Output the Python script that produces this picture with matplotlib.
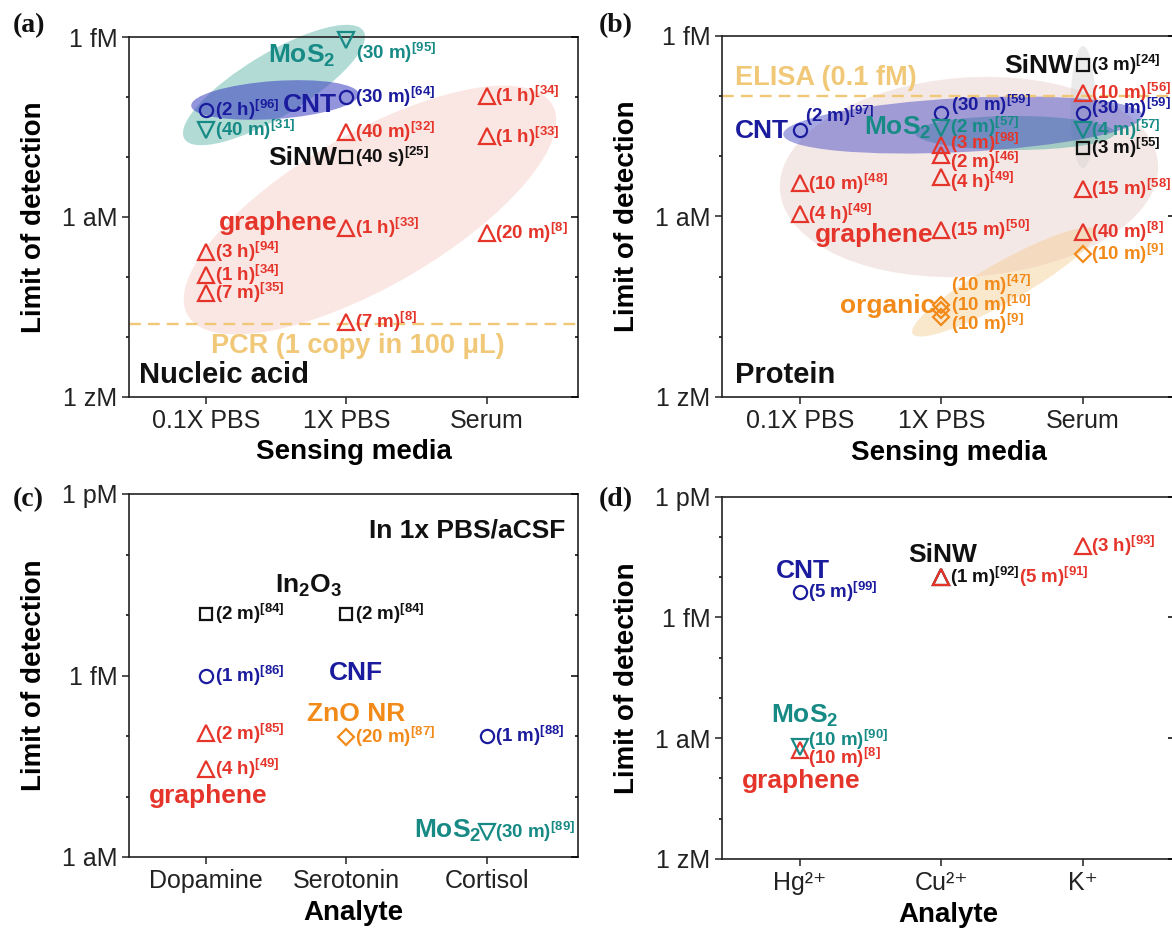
import matplotlib
matplotlib.use('Agg')
import matplotlib.pyplot as plt
import matplotlib.transforms as mtransforms
from matplotlib.patches import Ellipse
from matplotlib.ticker import FixedLocator, NullFormatter

plt.rcParams['font.family'] = ['Liberation Sans', 'DejaVu Sans']
plt.rcParams['mathtext.fontset'] = 'custom'
plt.rcParams['mathtext.rm'] = 'Liberation Sans'
plt.rcParams['mathtext.bf'] = 'Liberation Sans:bold'
plt.rcParams['mathtext.it'] = 'Liberation Sans:italic'
plt.rcParams['mathtext.sf'] = 'Liberation Sans'

# ======================= DATA =======================
# ---- (a) Nucleic acid, x = sensing media index ----
media = ['0.1X PBS', '1X PBS', 'Serum']
a_mos2_x = [1, 0]
a_mos2_lod = [8.9e-16, 2.8e-17]
a_mos2_time = ['30 m', '40 m']
a_mos2_ref = ['95', '31']
a_cnt_x = [0, 1]
a_cnt_lod = [6.0e-17, 1.0e-16]
a_cnt_time = ['2 h', '30 m']
a_cnt_ref = ['96', '64']
a_sinw_x = [1]
a_sinw_lod = [1.0e-17]
a_sinw_time = ['40 s']
a_sinw_ref = ['25']
a_gr_x = [2, 1, 2, 1, 2, 0, 0, 0, 1]
a_gr_lod = [1.05e-16, 2.6e-17, 2.2e-17, 6.6e-19, 5.4e-19, 2.6e-19, 1.1e-19, 5.4e-20, 1.8e-20]
a_gr_time = ['1 h', '40 m', '1 h', '1 h', '20 m', '3 h', '1 h', '7 m', '7 m']
a_gr_ref = ['34', '32', '33', '33', '8', '94', '34', '35', '8']
a_pcr = 1.66e-20

# ---- (b) Protein ----
b_cnt_x = [0, 1, 2]
b_cnt_lod = [2.7e-17, 5.1e-17, 5.1e-17]
b_cnt_time = ['2 m', '30 m', '30 m']
b_cnt_ref = ['97', '59', '59']
b_mos2_x = [1, 2]
b_mos2_lod = [2.9e-17, 2.7e-17]
b_mos2_time = ['2 m', '4 m']
b_mos2_ref = ['57', '57']
b_sinw_x = [2, 2]
b_sinw_lod = [3.2e-16, 1.35e-17]
b_sinw_time = ['3 m', '3 m']
b_sinw_ref = ['24', '55']
b_gr_x = [0, 0, 1, 1, 1, 1, 2, 2, 2]
b_gr_lod = [3.5e-18, 1.1e-18, 1.5e-17, 1.05e-17, 4.5e-18, 5.9e-19, 1.1e-16, 2.8e-18, 5.5e-19]
b_gr_time = ['10 m', '4 h', '3 m', '2 m', '4 h', '15 m', '10 m', '15 m', '40 m']
b_gr_ref = ['48', '49', '98', '46', '49', '50', '56', '58', '8']
b_org_x = [1, 1, 1, 2]
b_org_lod = [3.4e-20, 2.75e-20, 2.1e-20, 2.4e-19]
b_org_time = ['10 m', '10 m', '10 m', '10 m']
b_org_ref = ['47', '10', '9', '9']
b_elisa = 1e-16

# ---- (c) Neurotransmitters / hormones ----
analytes_c = ['Dopamine', 'Serotonin', 'Cortisol']
c_in2o3_x = [0, 1]
c_in2o3_lod = [1.05e-14, 1.05e-14]
c_in2o3_time = ['2 m', '2 m']
c_in2o3_ref = ['84', '84']
c_cnf_x = [0, 2]
c_cnf_lod = [1.0e-15, 1.0e-16]
c_cnf_time = ['1 m', '1 m']
c_cnf_ref = ['86', '88']
c_gr_x = [0, 0]
c_gr_lod = [1.1e-16, 2.8e-17]
c_gr_time = ['2 m', '4 h']
c_gr_ref = ['85', '49']
c_zno_x = [1]
c_zno_lod = [9.8e-17]
c_zno_time = ['20 m']
c_zno_ref = ['87']
c_mos2_x = [2]
c_mos2_lod = [2.6e-18]
c_mos2_time = ['30 m']
c_mos2_ref = ['89']

# ---- (d) Ions ----
analytes_d = ['Hg²⁺', 'Cu²⁺', 'K⁺']
d_cnt_x = [0]
d_cnt_lod = [4.4e-15]
d_cnt_time = ['5 m']
d_cnt_ref = ['99']
d_sinw_x = [1]
d_sinw_lod = [1.0e-14]
d_sinw_time = ['1 m']
d_sinw_ref = ['92']
d_gr_x = [1, 2, 0]
d_gr_lod = [1.0e-14, 6.0e-14, 5.1e-19]
d_gr_time = ['5 m', '3 h', '10 m']
d_gr_ref = ['91', '93', '8']
d_mos2_x = [0]
d_mos2_lod = [6.2e-19]
d_mos2_time = ['10 m']
d_mos2_ref = ['90']

# ======================= STYLE =======================
W, H, DPI = 1172, 933, 100
RED = '#E5352B'
BLUE = '#1B1B9E'
TEAL = '#178A85'
BLACK = '#111111'
ORANGE = '#F28A1A'
GOLD = '#F0C878'

fig = plt.figure(figsize=(W / DPI, H / DPI), dpi=DPI)


def axes_px(left, top, right, bottom):
    return fig.add_axes([left / W, 1 - bottom / H, (right - left) / W, (bottom - top) / H])


def setup(ax, ymin, ymax, majors, major_labels, minors, cats, xlabel):
    ax.set_yscale('log')
    ax.set_ylim(ymin, ymax)
    ax.set_xlim(-0.55, 2.65)
    ax.set_yticks(majors, major_labels)
    ax.yaxis.set_minor_locator(FixedLocator(minors))
    ax.yaxis.set_minor_formatter(NullFormatter())
    ax.set_xticks(range(len(cats)), cats)
    ax.tick_params(axis='x', which='minor', bottom=False)
    ax.tick_params(axis='both', which='major', length=5, width=1.1, labelsize=18,
                   direction='out', colors='#222222', labelcolor='#222222')
    ax.tick_params(axis='y', which='minor', length=2.5, width=1.1, direction='out')
    for s in ax.spines.values():
        s.set_linewidth(1.2)
        s.set_color('#222222')
    ax.set_xlabel(xlabel, fontsize=20, fontweight='bold')
    ax.xaxis.set_label_coords(0.5, -0.118)
    ax.set_ylabel('Limit of detection', fontsize=20, fontweight='bold')
    ax.yaxis.set_label_coords(-0.182, 0.5)
    tw = ax.twinx()
    tw.set_yscale('log')
    tw.set_ylim(ymin, ymax)
    tw.set_yticks(majors)
    tw.yaxis.set_minor_locator(FixedLocator(minors))
    tw.yaxis.set_minor_formatter(NullFormatter())
    tw.tick_params(axis='y', which='both', direction='in', labelright=False, width=1.1)
    tw.tick_params(axis='y', which='major', length=5)
    tw.tick_params(axis='y', which='minor', length=2.5)
    for s in tw.spines.values():
        s.set_visible(False)


def series(ax, xs, lods, times, refs, color, marker, ms, offsets=None):
    ax.plot(xs, lods, linestyle='none', marker=marker, ms=ms, mfc='none',
            mec=color, mew=1.6, clip_on=False, zorder=3)
    if offsets is None:
        offsets = [(6, 0)] * len(xs)
    for x, v, t, r, off in zip(xs, lods, times, refs, offsets):
        ax.annotate(f'({t})' + r'$^{\mathbf{[' + r + ']}}$', (x, v), xytext=off,
                    textcoords='offset points', ha='left', va='center',
                    color=color, fontsize=13.5, fontweight='bold', zorder=4,
                    annotation_clip=False)


def ellipse(ax, cx, cy, w, h, angle, color, alpha):
    tr = fig.dpi_scale_trans + mtransforms.ScaledTranslation(cx / W, 1 - cy / H, fig.transFigure)
    e = Ellipse((0, 0), w / DPI, h / DPI, angle=angle, facecolor=color, alpha=alpha,
                edgecolor='none', transform=tr, zorder=0.5, clip_on=False)
    ax.add_patch(e)


def ftext(x, y, s, color, size, ha='left', va='baseline', family=None):
    kw = {}
    if family is not None:
        kw['family'] = family
    fig.text(x / W, 1 - y / H, s, color=color, fontsize=size, fontweight='bold',
             ha=ha, va=va, **kw)


SUB2 = r'$_{\mathbf{2}}$'
SUB3 = r'$_{\mathbf{3}}$'

# ======================= (a) =======================
axa = axes_px(129, 37, 578, 397)
setup(axa, 1e-21, 1e-15, [1e-21, 1e-18, 1e-15], ['1 zM', '1 aM', '1 fM'],
      [1e-20, 1e-19, 1e-17, 1e-16], media, 'Sensing media')
ellipse(axa, 370, 210, 421, 153, 30, '#F6C9C3', 0.45)
ellipse(axa, 274, 85, 209, 63, 31, '#2A9D8F', 0.36)
ellipse(axa, 275, 100, 168, 38, 4, '#3A3FC0', 0.55)
axa.axhline(a_pcr, color=GOLD, lw=1.7, ls=(0, (5, 3)), zorder=1.5)
series(axa, a_gr_x, a_gr_lod, a_gr_time, a_gr_ref, RED, '^', 11)
series(axa, a_cnt_x, a_cnt_lod, a_cnt_time, a_cnt_ref, BLUE, 'o', 9.5)
series(axa, a_mos2_x, a_mos2_lod, a_mos2_time, a_mos2_ref, TEAL, 'v', 11,
       [(7, -9), (6, 0)])
series(axa, a_sinw_x, a_sinw_lod, a_sinw_time, a_sinw_ref, BLACK, 's', 8)
ftext(335, 63, 'MoS' + SUB2, TEAL, 19, ha='right')
ftext(337, 112, 'CNT', BLUE, 19, ha='right')
ftext(337, 165, 'SiNW', BLACK, 19, ha='right')
ftext(337, 230, 'graphene', RED, 19, ha='right')
ftext(358, 353, r'PCR (1 copy in 100 μL)', GOLD, 19.5, ha='center')
ftext(139, 383, 'Nucleic acid', BLACK, 21)
ftext(13, 26, '(a)', BLACK, 20, va='center', family='Liberation Serif')

# ======================= (b) =======================
axb = axes_px(722, 35.5, 1175, 397)
setup(axb, 1e-21, 1e-15, [1e-21, 1e-18, 1e-15], ['1 zM', '1 aM', '1 fM'],
      [1e-20, 1e-19, 1e-17, 1e-16], media, 'Sensing media')
ellipse(axb, 969, 177, 379, 199, 4, '#EBD3CF', 0.5)
ellipse(axb, 1004, 282, 210, 40, 29.5, '#F5C98A', 0.42)
ellipse(axb, 1083, 107, 25, 122, 0, '#CFCFCF', 0.4)
ellipse(axb, 1015, 133, 200, 34, 0, '#2A9D8F', 0.4)
ellipse(axb, 963, 125, 360, 54, 3, '#3A3FC0', 0.45)
axb.axhline(b_elisa, color=GOLD, lw=1.7, ls=(0, (5, 3)), zorder=1.5)
series(axb, b_gr_x, b_gr_lod, b_gr_time, b_gr_ref, RED, '^', 11,
       [(6, 0), (6, 0), (6, 2), (6, -5), (6, -4), (6, 0), (6, 0), (6, 0), (6, 0)])
series(axb, b_org_x, b_org_lod, b_org_time, b_org_ref, ORANGE, 'D', 8,
       [(7, 14), (7, 4), (7, -5), (6, 0)])
series(axb, b_cnt_x, b_cnt_lod, b_cnt_time, b_cnt_ref, BLUE, 'o', 9.5,
       [(4, 10), (7, 6), (6, 4)])
series(axb, b_mos2_x, b_mos2_lod, b_mos2_time, b_mos2_ref, TEAL, 'v', 11,
       [(6, 1), (6, 0)])
series(axb, b_sinw_x, b_sinw_lod, b_sinw_time, b_sinw_ref, BLACK, 's', 8)
ftext(1073, 73, 'SiNW', BLACK, 19, ha='right')
ftext(735, 85, 'ELISA (0.1 fM)', GOLD, 19.5)
ftext(735, 138, 'CNT', BLUE, 19)
ftext(931, 135, 'MoS' + SUB2, TEAL, 19, ha='right')
ftext(933, 242, 'graphene', RED, 19, ha='right')
ftext(935, 313, 'organic', ORANGE, 19, ha='right')
ftext(735, 383, 'Protein', BLACK, 21)
ftext(599, 26, '(b)', BLACK, 20, va='center', family='Liberation Serif')

# ======================= (c) =======================
axc = axes_px(129, 494, 578, 857)
setup(axc, 1e-18, 1e-12, [1e-18, 1e-15, 1e-12], ['1 aM', '1 fM', '1 pM'],
      [1e-17, 1e-16, 1e-14, 1e-13], analytes_c, 'Analyte')
series(axc, c_in2o3_x, c_in2o3_lod, c_in2o3_time, c_in2o3_ref, BLACK, 's', 8)
series(axc, c_cnf_x, c_cnf_lod, c_cnf_time, c_cnf_ref, BLUE, 'o', 9.5)
series(axc, c_gr_x, c_gr_lod, c_gr_time, c_gr_ref, RED, '^', 11)
series(axc, c_zno_x, c_zno_lod, c_zno_time, c_zno_ref, ORANGE, 'D', 8)
series(axc, c_mos2_x, c_mos2_lod, c_mos2_time, c_mos2_ref, TEAL, 'v', 11)
ftext(275, 593, 'In' + SUB2 + 'O' + SUB3, BLACK, 19)
ftext(329, 680, 'CNF', BLUE, 19)
ftext(307, 721, 'ZnO NR', ORANGE, 19)
ftext(149, 803, 'graphene', RED, 19)
ftext(481, 838, 'MoS' + SUB2, TEAL, 19, ha='right')
ftext(565, 537, 'In 1x PBS/aCSF', BLACK, 19, ha='right')
ftext(13, 500, '(c)', BLACK, 20, va='center', family='Liberation Serif')

# ======================= (d) =======================
axd = axes_px(722, 496.7, 1175, 859)
setup(axd, 1e-21, 1e-12, [1e-21, 1e-18, 1e-15, 1e-12], ['1 zM', '1 aM', '1 fM', '1 pM'],
      [1e-20, 1e-19, 1e-17, 1e-16, 1e-14, 1e-13], analytes_d, 'Analyte')
series(axd, d_sinw_x, d_sinw_lod, d_sinw_time, d_sinw_ref, BLACK, '^', 11)
series(axd, d_gr_x, d_gr_lod, d_gr_time, d_gr_ref, RED, '^', 11,
       [(56, 0), (6, 0), (6, -6)])
series(axd, d_cnt_x, d_cnt_lod, d_cnt_time, d_cnt_ref, BLUE, 'o', 9.5)
series(axd, d_mos2_x, d_mos2_lod, d_mos2_time, d_mos2_ref, TEAL, 'v', 11, [(6, 5)])
ftext(776, 578, 'CNT', BLUE, 19)
ftext(908, 562, 'SiNW', BLACK, 19)
ftext(771, 723, 'MoS' + SUB2, TEAL, 19)
ftext(742, 788, 'graphene', RED, 19)
ftext(599, 500, '(d)', BLACK, 20, va='center', family='Liberation Serif')

fig.savefig('out.png', dpi=DPI)
